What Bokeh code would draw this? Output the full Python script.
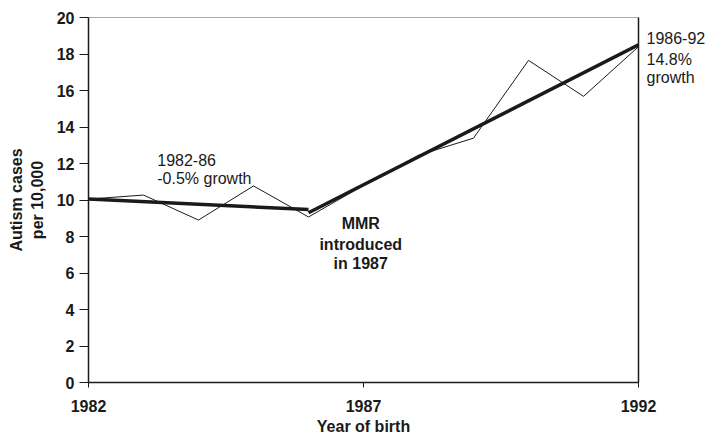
from bokeh.plotting import figure
from bokeh.models import Range1d, Label, FixedTicker, LinearAxis
from bokeh.embed import file_html
from bokeh.resources import INLINE

years = [1982, 1983, 1984, 1985, 1986, 1987, 1988, 1989, 1990, 1991, 1992]
rates = [10.05, 10.27, 8.9, 10.77, 9.07, 10.8, 12.45, 13.39, 17.65, 15.68, 18.4]

trend_pre_years = [1982, 1986]
trend_pre = [10.05, 9.48]
trend_post_years = [1986, 1992]
trend_post = [9.3, 18.5]

x_ticks = [1982, 1987, 1992]
y_ticks = [0, 2, 4, 6, 8, 10, 12, 14, 16, 18, 20]

post_note_y = [18.85, 17.7, 16.72]
post_note_text = ["1986-92", "14.8%", "growth"]

FONT = "Liberation Sans"
INK = "#1a1a1a"

p = figure(width=709, height=437, output_backend="svg", toolbar_location=None,
           x_range=Range1d(1982, 1992), y_range=Range1d(0, 20))
p.min_border_left = 88
p.min_border_right = 71
p.min_border_top = 17
p.min_border_bottom = 54
p.background_fill_color = "white"
p.border_fill_color = "white"
p.outline_line_color = "#aaaaaa"
p.outline_line_width = 1
p.xgrid.visible = False
p.ygrid.visible = False

p.line(years, rates, line_color=INK, line_width=1)
p.line(trend_pre_years, trend_pre, line_color=INK, line_width=3.5)
p.line(trend_post_years, trend_post, line_color=INK, line_width=3.5)

xa = p.xaxis[0]
xa.ticker = FixedTicker(ticks=x_ticks)
xa.minor_tick_line_color = None
xa.major_tick_in = 0
xa.major_tick_out = 5
xa.axis_line_color = INK
xa.axis_line_width = 1.5
xa.major_tick_line_color = INK
xa.major_label_text_font = FONT
xa.major_label_text_font_style = "bold"
xa.major_label_text_font_size = "16px"
xa.major_label_text_color = INK
xa.major_label_standoff = 12
xa.axis_label = "Year of birth"
xa.axis_label_text_font = FONT
xa.axis_label_text_font_style = "bold"
xa.axis_label_text_font_size = "16px"
xa.axis_label_text_color = INK
xa.axis_label_standoff = 3

ya = p.yaxis[0]
ya.ticker = FixedTicker(ticks=y_ticks)
ya.minor_tick_line_color = None
ya.major_tick_in = 0
ya.major_tick_out = 9
ya.axis_line_color = INK
ya.axis_line_width = 1.5
ya.major_tick_line_color = INK
ya.major_label_text_font = FONT
ya.major_label_text_font_style = "bold"
ya.major_label_text_font_size = "16px"
ya.major_label_text_color = INK
ya.major_label_standoff = 5
ya.axis_label = "Autism cases\nper 10,000"
ya.axis_label_text_font = FONT
ya.axis_label_text_font_style = "bold"
ya.axis_label_text_font_size = "16px"
ya.axis_label_text_color = INK
ya.axis_label_standoff = 8

ra = LinearAxis(ticker=FixedTicker(ticks=post_note_y),
                major_label_overrides=dict(zip(post_note_y, post_note_text)),
                axis_line_color=INK, axis_line_width=1.5,
                major_tick_line_color=None, major_tick_in=0, major_tick_out=0,
                minor_tick_line_color=None,
                major_label_standoff=8, major_label_text_font=FONT,
                major_label_text_font_size="16px", major_label_text_color=INK)
p.add_layout(ra, "right")

def lab(x, y, t, bold=False, align="left"):
    p.add_layout(Label(x=x, y=y, text=t, text_font=FONT, text_font_size="16px",
                       text_font_style="bold" if bold else "normal",
                       text_color=INK, text_align=align, text_baseline="middle"))

lab(1983.25, 12.19, "1982-86")
lab(1983.25, 11.2, "-0.5% growth")
lab(1986.95, 8.69, "MMR", bold=True, align="center")
lab(1986.95, 7.54, "introduced", bold=True, align="center")
lab(1986.95, 6.50, "in 1987", bold=True, align="center")

open("out.html", "w").write(file_html(p, INLINE))
